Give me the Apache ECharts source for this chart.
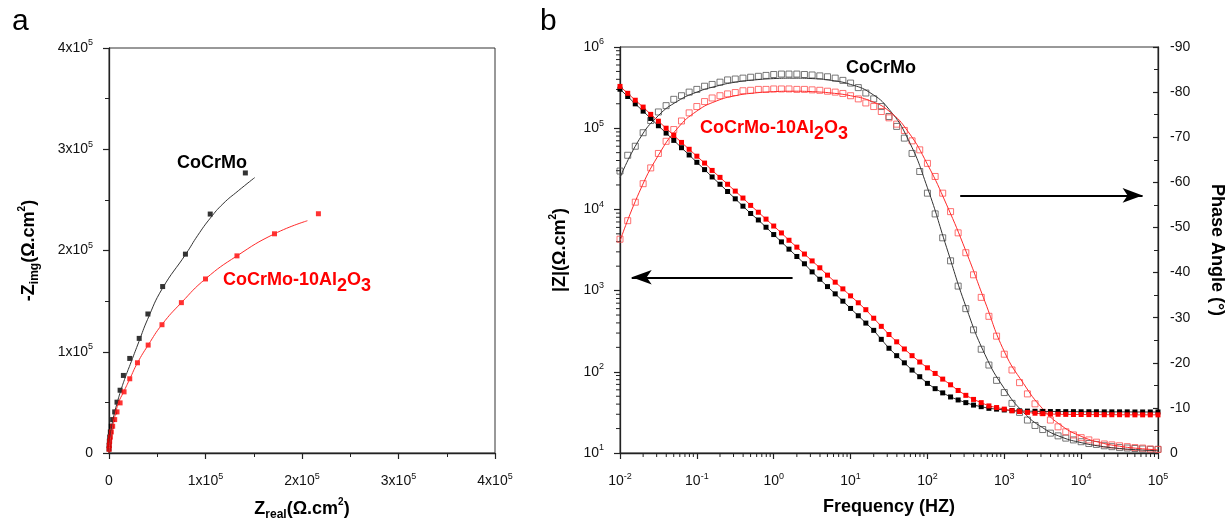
<!DOCTYPE html>
<html>
<head>
<meta charset="utf-8">
<script src="https://cdn.jsdelivr.net/npm/echarts@6/dist/echarts.min.js"></script>
<style>
html, body { margin: 0; padding: 0; background: #fff; }
#chart { width: 1229px; height: 528px; }
</style>
</head>
<body>
<div id="chart"></div>
<script>
var FONT = 'Arial, "Liberation Sans", sans-serif';

// panel a : Nyquist (Z real, -Z img), ohm.cm2
var nyqBlack = [[141300,276600],[104900,236000],[79200,196400],[55600,164400],[40300,137300],[31300,113200],
    [21500,93400],[14900,76600],[11500,62000],[8300,50200],[5900,40600],[3800,33000],[2400,26400],
    [1400,20800],[700,15800],[350,11600],[100,7600],[30,4000]];
var nyqBlackFit = [[0,0],[1000,12000],[2500,24000],[5000,37000],[8000,48000],[12000,61000],[17000,75000],
    [23000,90000],[31000,110000],[40000,132000],[55000,162000],[80000,197000],[92000,215000],
    [105000,232000],[118000,246000],[134000,259000],[151000,272000]];
var nyqRed = [[217000,236300],[171500,216500],[132600,194700],[100000,171900],[75000,148500],[54900,126700],
    [40600,106600],[29500,89100],[21500,73300],[15600,60400],[11500,49500],[8300,40600],[5900,33000],
    [3800,26400],[2400,20800],[1400,15800],[700,11600],[300,7600],[100,3600]];
var nyqRedFit = [[0,0],[1000,10000],[3000,22000],[6000,36000],[10000,50000],[15000,60000],[21500,73000],
    [29500,89000],[40600,106600],[55000,127000],[75000,148500],[100000,172000],[132600,194700],
    [171500,216500],[205600,229400]];

// panel b : Bode
var freq = [0.01,0.0126,0.0158,0.02,0.0251,0.0316,0.0398,0.0501,0.0631,0.0794,
    0.1,0.126,0.158,0.2,0.251,0.316,0.398,0.501,0.631,0.794,
    1,1.26,1.58,2,2.51,3.16,3.98,5.01,6.31,7.94,
    10,12.6,15.8,20,25.1,31.6,39.8,50.1,63.1,79.4,
    100,126,158,200,251,316,398,501,631,794,
    1000,1260,1580,2000,2510,3160,3980,5010,6310,7940,
    10000,12600,15800,20000,25100,31600,39800,50100,63100,79400,
    100000];
var zBlack = [302000,245500,199500,162200,131800,107200,87100,70800,57500,46800,
    38000,30900,25100,20400,16600,13500,10960,8910,7410,6030,
    4900,3980,3240,2630,2140,1700,1380,1120,912,741,
    603,490,398,324,251,195,158,129,105,87,
    72,62,55,49,45,41.7,38.9,37.2,35.5,34.7,
    33.9,33.3,33.0,32.8,32.6,32.5,32.4,32.4,32.3,32.3,
    32.2,32.2,32.2,32.1,32.1,32.1,32.1,32.0,32.0,32.0,
    32.0];
var zRed = [327000,269000,221000,182000,148000,122000,100000,81300,66800,55000,
    45200,37200,30200,24800,20400,16800,13800,11200,9230,7590,
    6240,5130,4170,3430,2820,2320,1910,1550,1270,1050,
    861,708,582,457,363,288,234,191,158,132,
    112,95.5,81.3,69.2,58.9,51.3,45.7,41.7,38.0,36.3,
    34.7,33.1,32.4,31.6,30.9,30.5,30.2,30.0,29.9,29.8,
    29.8,29.7,29.7,29.6,29.6,29.6,29.5,29.5,29.5,29.5,
    29.5];
var phBlack = [-62.5,-66.0,-68.0,-71.0,-73.7,-75.6,-77.0,-78.4,-79.2,-80.0,
    -80.6,-81.3,-81.7,-82.2,-82.7,-82.9,-83.1,-83.3,-83.5,-83.7,
    -83.9,-84.0,-84.0,-84.0,-83.9,-83.8,-83.6,-83.4,-83.1,-82.6,
    -82.0,-81.0,-79.8,-78.5,-76.8,-74.6,-72.4,-69.8,-66.4,-62.4,
    -57.6,-53.0,-47.7,-42.6,-37.0,-32.0,-27.3,-23.0,-19.5,-16.1,
    -13.4,-11.0,-9.0,-7.3,-6.1,-5.2,-4.4,-3.8,-3.3,-2.9,
    -2.5,-2.1,-1.9,-1.6,-1.4,-1.2,-1.1,-1.0,-0.9,-0.8,
    -0.8];
var phRed = [-47.4,-51.5,-55.6,-59.7,-63.2,-66.4,-69.1,-71.7,-73.6,-75.4,
    -76.8,-77.9,-78.7,-79.2,-79.6,-79.9,-80.3,-80.4,-80.6,-80.6,
    -80.7,-80.7,-80.7,-80.6,-80.6,-80.5,-80.4,-80.2,-80.0,-79.7,
    -79.2,-78.5,-77.6,-76.8,-75.7,-74.3,-72.9,-71.5,-69.2,-67.2,
    -64.2,-61.3,-57.6,-53.5,-48.8,-44.4,-39.5,-34.5,-30.3,-25.9,
    -21.9,-18.4,-15.6,-13.1,-10.9,-9.0,-7.3,-5.8,-4.7,-4.0,
    -3.4,-2.9,-2.4,-2.0,-1.8,-1.6,-1.4,-1.2,-1.1,-0.9,
    -0.8];
var freqFit = [0.01,0.0178,0.0316,0.0562,0.1,0.178,0.316,0.562,1,1.78,3.16,5.62,10,17.8,31.6,56.2,
    100,178,316,562,1000,1780,3160,5620,10000,17800,31600,56200,100000];
var phBlackFit = [-61.0,-69.5,-74.8,-78.0,-80.0,-81.3,-82.2,-82.7,-83.0,-83.1,-83.0,-82.6,-81.7,-79.9,
    -76.2,-69.5,-58.8,-45.5,-32.5,-21.8,-14.3,-9.0,-5.6,-3.5,-2.3,-1.5,-1.0,-0.7,-0.5];
var phRedFit = [-47.0,-57.8,-66.0,-72.0,-75.8,-78.0,-79.2,-79.8,-80.1,-80.2,-80.1,-79.8,-79.2,-78.1,
    -75.8,-71.2,-64.0,-55.0,-44.8,-33.5,-22.5,-15.4,-9.8,-6.0,-3.7,-2.3,-1.5,-1.0,-0.7];

// minor ticks of the log axes
var minorFreq = [0.02,0.03,0.04,0.05,0.06,0.07,0.08,0.09, 0.2,0.3,0.4,0.5,0.6,0.7,0.8,0.9,
    2,3,4,5,6,7,8,9, 20,30,40,50,60,70,80,90, 200,300,400,500,600,700,800,900,
    2000,3000,4000,5000,6000,7000,8000,9000, 20000,30000,40000,50000,60000,70000,80000,90000];
var minorZ = [20,30,40,50,60,70,80,90, 200,300,400,500,600,700,800,900,
    2000,3000,4000,5000,6000,7000,8000,9000, 20000,30000,40000,50000,60000,70000,80000,90000,
    200000,300000,400000,500000,600000,700000,800000,900000];

function pairs(xs, ys) {
    return xs.map(function(x, i){ return [x, ys[i]]; });
}

var labRich = {
    n: {fontSize: 14, fontFamily: FONT, color: '#111', lineHeight: 19},
    sup: {fontSize: 9, fontFamily: FONT, color: '#111', verticalAlign: 'top', lineHeight: 10}
};
var nameRich = {
    t: {fontSize: 18, fontWeight: 'bold', fontFamily: FONT, color: '#000', lineHeight: 24},
    sub: {fontSize: 12, fontWeight: 'bold', fontFamily: FONT, color: '#000', verticalAlign: 'bottom', lineHeight: 14},
    sup: {fontSize: 10, fontWeight: 'bold', fontFamily: FONT, color: '#000', verticalAlign: 'top', lineHeight: 12}
};

function sciLabel(v) { // 0 / Nx10^5
    if (v === 0) return '{n|0}';
    return '{n|' + Math.round(v / 1e5) + 'x10}{sup|5}';
}
function logLabel(v) {
    var e = Math.round(Math.log(v) / Math.LN10);
    return '{n|10}{sup|' + e + '}';
}

var axisLine = {show: true, onZero: false, lineStyle: {color: '#222', width: 1.3}};
var axisTick = {show: true, length: 6, lineStyle: {color: '#222', width: 1.2}};

function tickX(params, api) {
    var p = api.coord([api.value(0), api.value(1)]);
    return {type: 'line', shape: {x1: p[0], y1: p[1], x2: p[0], y2: p[1] + 4},
        style: {stroke: '#222', lineWidth: 1}};
}
function tickY(params, api) {
    var p = api.coord([api.value(0), api.value(1)]);
    return {type: 'line', shape: {x1: p[0] - 4, y1: p[1], x2: p[0], y2: p[1]},
        style: {stroke: '#222', lineWidth: 1}};
}

var labelRichRed = {
    t: {fontSize: 18, fontWeight: 'bold', fontFamily: FONT, fill: '#ff0000', lineHeight: 30},
    s: {fontSize: 18, fontWeight: 'bold', fontFamily: FONT, fill: '#ff0000', verticalAlign: 'bottom', lineHeight: 20}
};

var option = {
    animation: false,
    backgroundColor: '#fff',
    grid: [
        {left: 109, top: 48, width: 386, height: 405, show: true, borderColor: '#333', borderWidth: 1},
        {left: 620, top: 47, width: 538, height: 406, show: true, borderColor: '#333', borderWidth: 1}
    ],
    xAxis: [
        {type: 'value', gridIndex: 0, min: 0, max: 400000, interval: 100000,
            axisLine: axisLine, axisTick: axisTick,
            minorTick: {show: true, splitNumber: 2, length: 4, lineStyle: {color: '#222'}},
            splitLine: {show: false},
            axisLabel: {formatter: sciLabel, rich: labRich, margin: 19},
            name: '{t|Z}{sub|real}{t|(Ω.cm}{sup|2}{t|)}', nameLocation: 'middle', nameGap: 44,
            nameTextStyle: {rich: nameRich}},
        {type: 'log', gridIndex: 1, min: 0.01, max: 100000, logBase: 10, splitNumber: 7,
            axisLine: axisLine, axisTick: axisTick, splitLine: {show: false},
            axisLabel: {formatter: logLabel, rich: labRich, margin: 19},
            name: 'Frequency (HZ)', nameLocation: 'middle', nameGap: 45,
            nameTextStyle: {fontSize: 18, fontWeight: 'bold', fontFamily: FONT, color: '#000'}}
    ],
    yAxis: [
        {type: 'value', gridIndex: 0, min: 0, max: 400000, interval: 100000,
            axisLine: axisLine, axisTick: axisTick,
            minorTick: {show: true, splitNumber: 2, length: 4, lineStyle: {color: '#222'}},
            splitLine: {show: false},
            axisLabel: {formatter: sciLabel, rich: labRich, margin: 16},
            name: '{t|-Z}{sub|img}{t|(Ω.cm}{sup|2}{t|)}', nameLocation: 'middle', nameGap: 68, nameRotate: 90,
            nameTextStyle: {rich: nameRich}},
        {type: 'log', gridIndex: 1, min: 10, max: 1000000, logBase: 10, splitNumber: 5,
            axisLine: axisLine, axisTick: axisTick, splitLine: {show: false},
            axisLabel: {formatter: logLabel, rich: labRich, margin: 16},
            name: '{t||Z|(Ω.cm}{sup|2}{t|)}', nameLocation: 'middle', nameGap: 48, nameRotate: 90,
            nameTextStyle: {rich: nameRich}},
        {type: 'value', gridIndex: 1, position: 'right', min: -90, max: 0, interval: 10, inverse: true,
            axisLine: axisLine,
            axisTick: {show: true, inside: true, length: 5, lineStyle: {color: '#222', width: 1.2}},
            minorTick: {show: true, splitNumber: 2, length: 4, lineStyle: {color: '#222'}},
            splitLine: {show: false},
            axisLabel: {fontSize: 14, fontFamily: FONT, color: '#111', margin: 12},
            name: 'Phase Angle (°)', nameLocation: 'middle', nameGap: 50, nameRotate: -90,
            nameTextStyle: {fontSize: 18, fontWeight: 'bold', fontFamily: FONT, color: '#000'}}
    ],
    series: [
        // panel a
        {type: 'line', xAxisIndex: 0, yAxisIndex: 0, data: nyqBlackFit, smooth: true, showSymbol: false,
            lineStyle: {color: '#333', width: 1}},
        {type: 'line', xAxisIndex: 0, yAxisIndex: 0, data: nyqRedFit, smooth: true, showSymbol: false,
            lineStyle: {color: '#ff2a2a', width: 1}},
        {type: 'scatter', xAxisIndex: 0, yAxisIndex: 0, data: nyqBlack, symbol: 'rect', symbolSize: 5,
            itemStyle: {color: '#000'}},
        {type: 'scatter', xAxisIndex: 0, yAxisIndex: 0, data: nyqRed, symbol: 'rect', symbolSize: 5,
            itemStyle: {color: '#ff0000'}},
        // panel b phase
        {type: 'line', xAxisIndex: 1, yAxisIndex: 2, data: pairs(freqFit, phBlackFit), smooth: true,
            showSymbol: false, lineStyle: {color: '#333', width: 1},
            markLine: {silent: true, symbol: ['none', 'arrow'], symbolSize: [11, 20],
                label: {show: false}, lineStyle: {color: '#000', width: 2, type: 'solid'},
                data: [[{coord: [267, -57.1]}, {coord: [63000, -57.1]}]]}},
        {type: 'line', xAxisIndex: 1, yAxisIndex: 2, data: pairs(freqFit, phRedFit), smooth: true,
            showSymbol: false, lineStyle: {color: '#ff2a2a', width: 1}},
        {type: 'scatter', xAxisIndex: 1, yAxisIndex: 2, data: pairs(freq, phBlack), symbol: 'rect', symbolSize: 6,
            itemStyle: {color: 'rgba(255,255,255,0)', borderColor: '#555', borderWidth: 1}},
        {type: 'scatter', xAxisIndex: 1, yAxisIndex: 2, data: pairs(freq, phRed), symbol: 'rect', symbolSize: 6,
            itemStyle: {color: 'rgba(255,255,255,0)', borderColor: '#ff4d4d', borderWidth: 1}},
        // panel b |Z|
        {type: 'line', xAxisIndex: 1, yAxisIndex: 1, data: pairs(freq, zBlack), symbol: 'rect', symbolSize: 5,
            itemStyle: {color: '#000'}, lineStyle: {color: '#333', width: 1},
            markLine: {silent: true, symbol: ['none', 'arrow'], symbolSize: [11, 20],
                label: {show: false}, lineStyle: {color: '#000', width: 2, type: 'solid'},
                data: [[{coord: [1.76, 1460]}, {coord: [0.0142, 1460]}]]}},
        {type: 'line', xAxisIndex: 1, yAxisIndex: 1, data: pairs(freq, zRed), symbol: 'rect', symbolSize: 5,
            itemStyle: {color: '#ff0000'}, lineStyle: {color: '#ff2a2a', width: 1}},
        // log minor ticks
        {type: 'custom', xAxisIndex: 1, yAxisIndex: 1, clip: false, silent: true, renderItem: tickX,
            data: minorFreq.map(function(f){ return [f, 10]; })},
        {type: 'custom', xAxisIndex: 1, yAxisIndex: 1, clip: false, silent: true, renderItem: tickY,
            data: minorZ.map(function(z){ return [0.01, z]; })}
    ],
    graphic: [
        {type: 'text', x: 12, y: 22, style: {text: 'a', font: '30px ' + FONT, fill: '#000',
            verticalAlign: 'middle', textVerticalAlign: 'middle'}},
        {type: 'text', x: 540, y: 22, style: {text: 'b', font: '30px ' + FONT, fill: '#000',
            verticalAlign: 'middle', textVerticalAlign: 'middle'}},
        {type: 'text', x: 177, y: 163, style: {text: 'CoCrMo', font: 'bold 18px ' + FONT, fill: '#000',
            verticalAlign: 'middle', textVerticalAlign: 'middle'}},
        {type: 'text', x: 223, y: 280, style: {text: '{t|CoCrMo-10Al}{s|2}{t|O}{s|3}', rich: labelRichRed,
            verticalAlign: 'middle', textVerticalAlign: 'middle'}},
        {type: 'text', x: 846, y: 68, style: {text: 'CoCrMo', font: 'bold 18px ' + FONT, fill: '#000',
            verticalAlign: 'middle', textVerticalAlign: 'middle'}},
        {type: 'text', x: 700, y: 128, style: {text: '{t|CoCrMo-10Al}{s|2}{t|O}{s|3}', rich: labelRichRed,
            verticalAlign: 'middle', textVerticalAlign: 'middle'}}
    ]
};

var chart = echarts.init(document.getElementById('chart'));
chart.setOption(option);
</script>
</body>
</html>
